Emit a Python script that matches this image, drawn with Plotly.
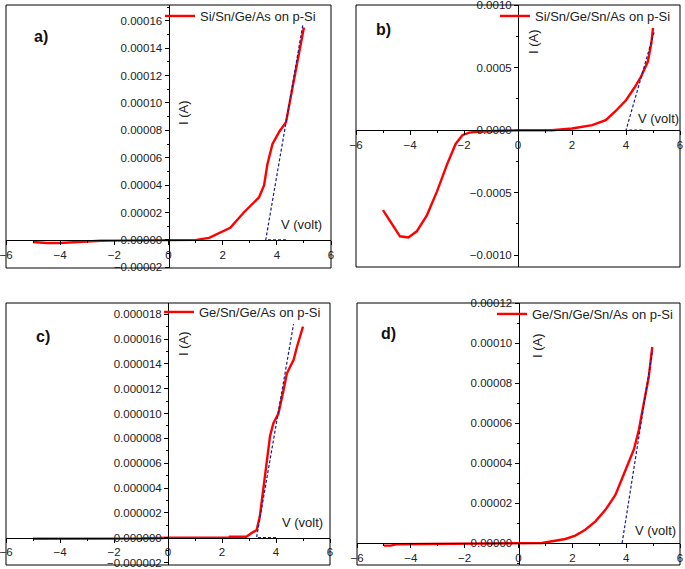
import plotly.graph_objects as go

W, H = 685, 569

# panel a) Si/Sn/Ge/As on p-Si
va = [-5.0, -4.5, -4.0, -3.5, -3.0, -2.5, -2.0, -1.5, -1.0, -0.5, 0.0, 0.5, 1.03, 1.5, 1.9, 2.28,
      2.78, 3.34, 3.53, 3.65, 3.84, 4.09, 4.34, 4.53, 4.71, 5.0]
ia = [-1.5e-6, -2.2e-6, -2.2e-6, -1.5e-6, -1.2e-6, -6e-7, -5e-7, -4e-7, -3e-7, -2e-7, 0, 0, 0, 1.5e-6,
      5.5e-6, 8.8e-6, 2.0e-5, 3.1e-5, 4.0e-5, 5.5e-5, 7.0e-5, 7.9e-5, 8.6e-5, 1.05e-4, 1.25e-4, 1.55e-4]
fit_va = [4.34, 3.59, 4.96]
fit_ia = [0, 0, 1.57e-4]

# panel b) Si/Sn/Ge/Sn/As on p-Si
vb = [-5.0, -4.56, -4.37, -4.06, -3.75, -3.37, -3.0, -2.62, -2.31, -2.06, -1.81, -1.5, -1.0, 0.0,
      1.25, 2.0, 2.75, 3.25, 3.6, 4.0, 4.31, 4.56, 4.81, 4.94, 5.0]
ib = [-6.4e-4, -7.8e-4, -8.5e-4, -8.6e-4, -8.1e-4, -6.8e-4, -4.9e-4, -2.7e-4, -1.1e-4, -4e-5, -1.9e-5,
      -1.3e-5, -8e-6, 0, 0, 1.4e-5, 4e-5, 8e-5, 1.5e-4, 2.4e-4, 3.4e-4, 4.3e-4, 5.5e-4, 7.0e-4, 8.2e-4]
fit_vb = [4.6, 4.0, 5.06]
fit_ib = [0, 0, 8.0e-4]

# panel c) Ge/Sn/Ge/As on p-Si
vc = [-5.0, -3.0, -1.0, 0.0, 1.0, 2.28, 2.29, 2.9, 3.15, 3.28, 3.4, 3.53, 3.65, 3.78, 3.9, 4.09,
      4.28, 4.4, 4.53, 4.65, 4.78, 5.0]
ic = [-8e-8, -8e-8, -6e-8, 0, 0, 0, 8e-8, 8e-8, 4.5e-7, 6e-7, 1.7e-6, 3.9e-6, 5.7e-6, 8.2e-6, 9.2e-6,
      1.0e-5, 1.19e-5, 1.32e-5, 1.38e-5, 1.43e-5, 1.54e-5, 1.7e-5]
fit_vc = [4.0, 3.28, 4.65]
fit_ic = [0, 0, 1.72e-5]

# panel d) Ge/Sn/Ge/Sn/As on p-Si
vd = [-5.0, -4.75, -4.5, -3.0, -1.0, 0.0, 0.87, 1.74, 2.11, 2.48, 2.86, 3.23, 3.6, 3.98, 4.29, 4.47,
      4.66, 4.84, 4.97]
id_ = [-1.3e-6, -1.3e-6, -6e-7, -5e-7, -3e-7, 0, 0, 2e-6, 3.7e-6, 6.6e-6, 1.08e-5, 1.66e-5, 2.4e-5,
       3.66e-5, 4.69e-5, 5.65e-5, 6.98e-5, 8.31e-5, 9.8e-5]
fit_vd = [3.85, 4.97]
fit_id = [0, 9.56e-5]

# box = (left, right, top, bottom) in px; leg/tag/ia/va = pixel anchors of the texts
panels = [
    dict(v=va, i=ia, fv=fit_va, fi=fit_ia, name="Si/Sn/Ge/As on p-Si", tag="a)",
         box=(6, 331, 5, 268), yr=[-2.05e-5, 1.715e-4], dy=2e-5, fmt=".5f",
         leg=(160, 1), tagxy=(41, 37), ilab=(183, 112), vlab=(301, 224)),
    dict(v=vb, i=ib, fv=fit_vb, fi=fit_ib, name="Si/Sn/Ge/Sn/As on p-Si", tag="b)",
         box=(356, 680, 5, 267), yr=[-1.096e-3, 1.003e-3], dy=5e-4, fmt=".4f",
         leg=(495, 1), tagxy=(383, 30), ilab=(533, 42), vlab=(658, 118)),
    dict(v=vc, i=ic, fv=fit_vc, fi=fit_ic, name="Ge/Sn/Ge/As on p-Si", tag="c)",
         box=(6, 330, 303, 565), yr=[-2.2e-6, 1.89e-5], dy=2e-6, fmt=".6f",
         leg=(159, 297), tagxy=(43, 337), ilab=(183, 343), vlab=(302, 522)),
    dict(v=vd, i=id_, fv=fit_vd, fi=fit_id, name="Ge/Sn/Ge/Sn/As on p-Si", tag="d)",
         box=(357, 680, 303, 565), yr=[-1.1e-5, 1.2e-4], dy=2e-5, fmt=".5f",
         leg=(492, 299), tagxy=(388, 333), ilab=(537, 346), vlab=(655, 530)),
]

font = "Arial, Liberation Sans, sans-serif"
fig = go.Figure()
shapes, annos = [], []
layout = dict(width=W, height=H, margin=dict(l=0, r=0, t=0, b=0, autoexpand=False),
              paper_bgcolor="white", plot_bgcolor="white", showlegend=True,
              font=dict(family=font, color="#222", size=11))


def px(x):
    return x / W


def py(y):
    return 1 - y / H


for k, p in enumerate(panels, start=1):
    sfx = "" if k == 1 else str(k)
    x0, x1, y0, y1 = p["box"]
    xd = [px(x0), px(x1)]
    yd = [py(y1), py(y0)]
    xr = [-6, 6]
    yr = p["yr"]
    # axes cross at the origin
    xpos = yd[0] + (0 - yr[0]) / (yr[1] - yr[0]) * (yd[1] - yd[0])
    ypos = xd[0] + (0 - xr[0]) / (xr[1] - xr[0]) * (xd[1] - xd[0])
    leg = "legend" if k == 1 else f"legend{k}"

    fig.add_trace(go.Scatter(x=p["v"], y=p["i"], mode="lines", name=p["name"],
                             line=dict(color="#ff0000", width=2.4),
                             xaxis="x" + sfx, yaxis="y" + sfx, legend=leg))
    fig.add_trace(go.Scatter(x=p["fv"], y=p["fi"], mode="lines", showlegend=False,
                             line=dict(color="#1c1c8f", width=1.2, dash="3px,2px"),
                             xaxis="x" + sfx, yaxis="y" + sfx))

    layout["xaxis" + sfx] = dict(domain=xd, range=xr, anchor="free", position=xpos,
                                 automargin=False, ticklabeloverflow="allow",
                                 dtick=2, showline=True, linecolor="black", linewidth=1,
                                 ticks="outside", ticklen=4, tickcolor="black",
                                 minor=dict(dtick=1, ticks="outside", ticklen=2, tickcolor="black"),
                                 showgrid=False, zeroline=False,
                                 tickfont=dict(size=11.5, color="#222"))
    layout["yaxis" + sfx] = dict(domain=yd, range=yr, anchor="free", position=ypos,
                                 automargin=False, ticklabeloverflow="allow",
                                 dtick=p["dy"], tickformat=p["fmt"], showline=True,
                                 linecolor="black", linewidth=1,
                                 ticks="outside", ticklen=4, tickcolor="black",
                                 minor=dict(dtick=p["dy"] / 2, ticks="outside", ticklen=2,
                                            tickcolor="black"),
                                 showgrid=False, zeroline=False,
                                 tickfont=dict(size=11.5, color="#222"))
    layout[leg] = dict(x=px(p["leg"][0]), y=py(p["leg"][1]), xanchor="left", yanchor="top",
                       bgcolor="rgba(0,0,0,0)", font=dict(size=13, color="#222", family=font),
                       itemwidth=30)

    shapes.append(dict(type="rect", xref=f"x{sfx} domain", yref=f"y{sfx} domain",
                       x0=0, x1=1, y0=0, y1=1, line=dict(color="black", width=1)))
    annos.append(dict(text=f"<b>{p['tag']}</b>", xref="paper", yref="paper",
                      x=px(p["tagxy"][0]), y=py(p["tagxy"][1]), xanchor="center", yanchor="middle",
                      showarrow=False, font=dict(size=16, color="#111")))
    annos.append(dict(text="I (A)", xref="paper", yref="paper",
                      x=px(p["ilab"][0]), y=py(p["ilab"][1]), xanchor="center", yanchor="middle",
                      textangle=-90, showarrow=False, font=dict(size=13, color="#222")))
    annos.append(dict(text="V (volt)", xref="paper", yref="paper",
                      x=px(p["vlab"][0]), y=py(p["vlab"][1]), xanchor="center", yanchor="middle",
                      showarrow=False, font=dict(size=13, color="#222")))

layout["shapes"] = shapes
layout["annotations"] = annos
fig.update_layout(**layout)
fig.write_html("out.html", config={"displayModeBar": False},
               post_script="document.body.style.margin='0';")
